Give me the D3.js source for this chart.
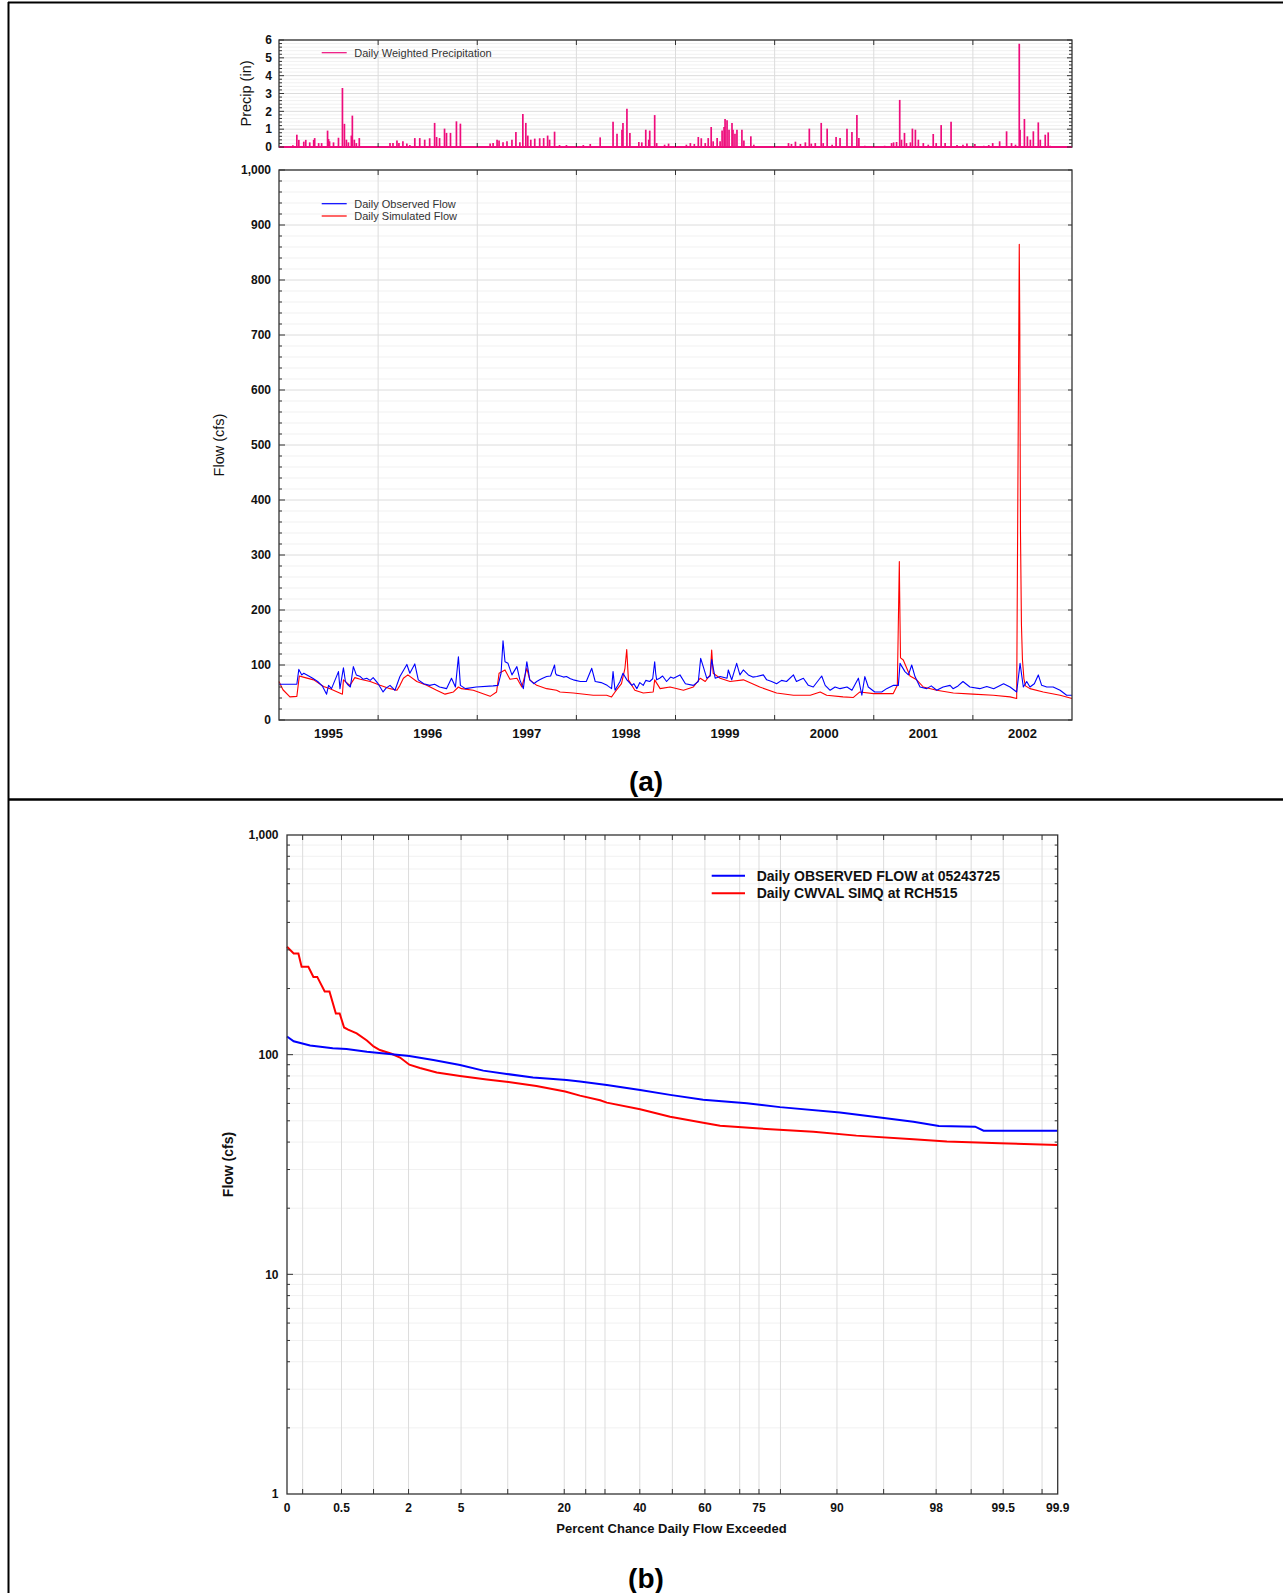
<!DOCTYPE html>
<html>
<head>
<meta charset="utf-8">
<script src="https://cdn.jsdelivr.net/npm/d3@7"></script>
<style>
  body { margin: 0; background: #fff; }
  svg { display: block; font-family: Arial, "Liberation Sans", sans-serif; }
</style>
</head>
<body>
<svg id="chart" width="1283" height="1593"></svg>
<script>
// ---- data ----
// time is in decimal years
const yearLabels = [1995, 1996, 1997, 1998, 1999, 2000, 2001, 2002];

// daily weighted precipitation (in)
const precip = [
  [1995.14,.1],[1995.18,.69],[1995.20,.4],[1995.25,.3],[1995.27,.4],[1995.31,.26],[1995.35,.4],[1995.36,.5],
  [1995.40,.22],[1995.43,.22],[1995.49,.92],[1995.50,.45],[1995.51,.32],[1995.55,.26],[1995.60,.52],[1995.64,3.31],
  [1995.66,1.3],[1995.68,.41],[1995.70,.26],[1995.73,.64],[1995.74,1.76],[1995.76,.41],[1995.78,.22],[1995.81,.5],
  [1996.12,.22],[1996.15,.22],[1996.19,.36],[1996.21,.22],[1996.25,.32],[1996.29,.19],[1996.32,.11],[1996.37,.5],
  [1996.42,.5],[1996.47,.41],[1996.52,.49],[1996.57,1.35],[1996.59,.56],[1996.62,.5],[1996.67,1.03],[1996.69,.79],
  [1996.73,.79],[1996.79,1.44],[1996.83,1.31],
  [1997.13,.19],[1997.16,.22],[1997.20,.41],[1997.22,.37],[1997.26,.26],[1997.30,.32],[1997.35,.41],[1997.39,.84],
  [1997.43,.26],[1997.46,1.85],[1997.49,1.35],[1997.51,.64],[1997.54,.41],[1997.58,.47],[1997.63,.49],[1997.67,.5],
  [1997.71,.64],[1997.73,.41],[1997.78,.86],[1997.83,.11],[1997.90,.11],
  [1998.07,.11],[1998.14,.17],[1998.24,.54],[1998.37,1.42],[1998.41,.75],[1998.46,.97],[1998.47,1.35],[1998.51,2.15],
  [1998.54,.79],[1998.63,.28],[1998.66,.26],[1998.70,.97],[1998.73,.41],[1998.74,.92],[1998.79,1.79],[1998.81,.22],
  [1998.89,.13],[1998.93,.19],
  [1999.03,.04],[1999.11,.13],[1999.15,.22],[1999.19,.17],[1999.23,.56],[1999.26,.49],[1999.30,.22],[1999.33,.5],
  [1999.36,1.12],[1999.38,.32],[1999.42,.5],[1999.45,.32],[1999.47,.93],[1999.49,1.12],[1999.50,1.57],[1999.52,1.5],
  [1999.54,.97],[1999.57,1.35],[1999.58,.97],[1999.60,.75],[1999.62,.97],[1999.67,.97],[1999.69,.37],[1999.76,.6],
  [1999.79,.13],
  [2000.02,.04],[2000.09,.04],[2000.14,.22],[2000.17,.17],[2000.21,.3],[2000.26,.17],[2000.31,.26],[2000.35,1.03],
  [2000.37,.19],[2000.41,.22],[2000.47,1.35],[2000.49,.22],[2000.53,1.03],[2000.58,.13],[2000.62,.56],[2000.66,.5],
  [2000.73,1.03],[2000.78,.84],[2000.83,1.79],[2000.85,.5],[2000.91,.07],
  [2001.11,.07],[2001.18,.22],[2001.20,.26],[2001.23,.28],[2001.262,2.64],[2001.28,.41],[2001.31,.79],[2001.33,.22],
  [2001.37,.26],[2001.39,1.03],[2001.42,.97],[2001.45,.41],[2001.50,.22],[2001.55,.13],[2001.60,.73],[2001.63,.22],
  [2001.68,1.23],[2001.72,.22],[2001.78,1.42],[2001.84,.11],[2001.90,.13],[2001.94,.19],
  [2002.02,.17],[2002.11,.07],[2002.16,.11],[2002.20,.22],[2002.27,.32],[2002.34,.88],[2002.39,.22],[2002.43,.13],
  [2002.468,5.79],[2002.476,.97],[2002.52,1.57],[2002.55,.6],[2002.58,.41],[2002.61,.88],[2002.66,1.38],[2002.68,.41],
  [2002.73,.69],[2002.76,.82],[2002.78,.07],[2002.85,.04],[2002.95,.04]
];

// daily observed flow (cfs)
const observedFlow = [
  [1995.00,65],[1995.18,65],[1995.20,92],[1995.23,82],[1995.25,85],[1995.30,80],[1995.34,76],[1995.39,70],
  [1995.44,61],[1995.48,47],[1995.50,63],[1995.53,57],[1995.60,88],[1995.615,57],[1995.65,95],[1995.67,70],
  [1995.69,65],[1995.72,60],[1995.75,97],[1995.78,82],[1995.82,79],[1995.85,74],[1995.885,76],[1995.92,72],
  [1995.95,77],[1996.00,66],[1996.05,51],[1996.08,58],[1996.12,63],[1996.17,54],[1996.22,79],[1996.29,101],
  [1996.32,85],[1996.37,102],[1996.405,73],[1996.46,66],[1996.52,63],[1996.57,65],[1996.62,60],[1996.69,57],
  [1996.74,76],[1996.78,60],[1996.81,115],[1996.83,63],[1996.88,57],[1996.99,60],[1997.16,62],[1997.21,63],
  [1997.24,85],[1997.26,144],[1997.28,106],[1997.31,103],[1997.35,82],[1997.40,97],[1997.43,73],[1997.465,57],
  [1997.50,106],[1997.53,73],[1997.57,66],[1997.60,70],[1997.63,73],[1997.66,76],[1997.70,79],[1997.74,80],
  [1997.78,100],[1997.79,85],[1997.80,82],[1997.84,80],[1997.87,78],[1997.90,79],[1997.94,75],[1997.97,73],
  [1998.04,70],[1998.10,70],[1998.155,94],[1998.19,70],[1998.25,68],[1998.31,63],[1998.355,57],[1998.37,88],
  [1998.39,54],[1998.44,70],[1998.47,85],[1998.51,73],[1998.56,63],[1998.58,66],[1998.61,57],[1998.64,68],
  [1998.675,63],[1998.70,72],[1998.74,70],[1998.77,75],[1998.79,106],[1998.80,85],[1998.81,73],[1998.84,76],
  [1998.87,80],[1998.91,70],[1998.95,78],[1998.98,76],[1999.045,82],[1999.10,66],[1999.18,63],[1999.23,70],
  [1999.254,112],[1999.28,97],[1999.315,76],[1999.35,80],[1999.365,110],[1999.40,76],[1999.45,79],[1999.52,76],
  [1999.533,91],[1999.567,73],[1999.617,103],[1999.65,82],[1999.684,91],[1999.735,82],[1999.78,78],[1999.82,79],
  [1999.886,82],[1999.92,73],[1999.97,70],[2000.02,66],[2000.07,72],[2000.12,70],[2000.19,82],[2000.22,70],
  [2000.29,76],[2000.34,63],[2000.39,60],[2000.475,80],[2000.51,63],[2000.56,54],[2000.61,60],[2000.66,57],
  [2000.73,60],[2000.78,54],[2000.845,76],[2000.88,45],[2000.91,79],[2000.945,60],[2001.01,51],[2001.08,51],
  [2001.13,57],[2001.20,63],[2001.248,63],[2001.265,103],[2001.315,88],[2001.35,82],[2001.383,100],[2001.416,79],
  [2001.467,60],[2001.534,57],[2001.58,62],[2001.635,54],[2001.70,60],[2001.77,63],[2001.80,57],[2001.85,62],
  [2001.90,70],[2001.97,60],[2002.07,57],[2002.14,61],[2002.21,57],[2002.31,66],[2002.375,60],[2002.442,51],
  [2002.476,103],[2002.509,60],[2002.543,70],[2002.576,60],[2002.62,66],[2002.66,82],[2002.694,63],[2002.745,60],
  [2002.81,60],[2002.88,54],[2002.946,45],[2003.00,45]
];

// daily simulated flow (cfs)
const simulatedFlow = [
  [1995.00,70],[1995.04,55],[1995.11,42],[1995.18,43],[1995.205,80],[1995.245,78],[1995.35,73],[1995.45,61],
  [1995.515,57],[1995.64,47],[1995.65,73],[1995.715,63],[1995.765,77],[1995.82,74],[1995.92,70],[1996.02,63],
  [1996.12,57],[1996.19,54],[1996.22,63],[1996.255,76],[1996.30,82],[1996.39,70],[1996.49,63],[1996.59,54],
  [1996.675,47],[1996.76,51],[1996.81,60],[1996.84,57],[1996.96,54],[1997.13,43],[1997.195,51],[1997.22,85],
  [1997.28,91],[1997.33,74],[1997.40,76],[1997.45,60],[1997.50,94],[1997.53,73],[1997.60,63],[1997.70,57],
  [1997.80,54],[1997.835,51],[1997.97,49],[1998.17,45],[1998.305,45],[1998.355,42],[1998.39,51],[1998.455,66],
  [1998.49,94],[1998.508,128],[1998.525,73],[1998.59,54],[1998.675,49],[1998.775,51],[1998.79,73],[1998.845,57],
  [1998.945,60],[1999.08,54],[1999.18,60],[1999.25,76],[1999.30,70],[1999.35,82],[1999.365,127],[1999.38,85],
  [1999.45,76],[1999.55,70],[1999.685,73],[1999.85,60],[2000.02,49],[2000.19,45],[2000.36,45],[2000.46,51],
  [2000.525,45],[2000.69,42],[2000.795,41],[2000.86,51],[2001.00,48],[2001.197,48],[2001.238,63],[2001.258,288],
  [2001.261,236],[2001.265,179],[2001.27,113],[2001.298,109],[2001.366,80],[2001.433,73],[2001.50,60],[2001.635,54],
  [2001.803,49],[2002.00,47],[2002.206,45],[2002.375,42],[2002.442,39],[2002.468,865],[2002.473,731],[2002.48,345],
  [2002.49,173],[2002.50,110],[2002.515,75],[2002.53,62],[2002.576,57],[2002.71,51],[2002.88,45],[2003.00,39]
];

// flow duration curves: [percent exceeded, flow cfs]
const observedDuration = [
  [0.135,121],[0.16,115],[0.24,110],[0.41,107],[0.56,106],[0.87,103],[1.31,101],[2.03,98.6],[3.14,94.6],
  [4.92,89.8],[7.05,84.6],[9.86,81.7],[13.9,78.8],[20.5,76.7],[23.6,75.4],[30.5,72.8],[40.1,69.1],[49.3,65.6],
  [59.5,62.3],[71.9,60.1],[79.9,57.7],[90.4,54.5],[94.7,51.7],[96.97,49.5],[98.1,47.3],[99.08,47.0],[99.23,45.1],
  [99.865,45.1]
];
const simulatedDuration = [
  [0.135,310],[0.16,289],[0.18,289],[0.195,251],[0.23,251],[0.26,226],[0.285,226],[0.34,194],[0.38,194],
  [0.44,154],[0.48,154],[0.53,133],[0.58,130],[0.70,125],[0.87,116],[1.0,109],[1.14,105],[1.44,101],[1.70,97],
  [2.03,90],[2.47,87],[3.33,83],[4.92,80],[7.42,77],[10.1,75],[14.5,72],[20.2,68],[23.6,65.1],[28.7,62],
  [30.5,60.5],[40.1,56.4],[49.3,52.2],[59.5,49.0],[64.5,47.5],[75.2,46.1],[86.4,44.6],[92.4,42.8],[96.97,41.2],
  [98.37,40.2],[99.46,39.5],[99.865,38.8]
];

const pctLabels = [0, 0.5, 2, 5, 20, 40, 60, 75, 90, 98, 99.5, 99.9];
const pctGrid = [0.2, 0.5, 1, 2, 5, 10, 20, 25, 30, 40, 50, 60, 70, 75, 80, 90, 95, 98, 99, 99.5, 99.8];
const flowLogTicks = [1, 10, 100, 1000];

// ---- helpers ----
// inverse normal cdf (Acklam), used for the probability axis
function probit(p) {
  if (p <= 0) return -Infinity;
  if (p >= 1) return Infinity;
  const a = [-3.969683028665376e+01, 2.209460984245205e+02, -2.759285104469687e+02, 1.383577518672690e+02, -3.066479806614716e+01, 2.506628277459239e+00];
  const b = [-5.447609879822406e+01, 1.615858368580409e+02, -1.556989798598866e+02, 6.680131188771972e+01, -1.328068155288572e+01];
  const c = [-7.784894002430293e-03, -3.223964580411365e-01, -2.400758277161838e+00, -2.549671039308640e+00, 4.374664141464968e+00, 2.938163982698783e+00];
  const d = [7.784695709041462e-03, 3.224671290700398e-01, 2.445134137142996e+00, 3.754408661907416e+00];
  const pl = 0.02425;
  let q, r;
  if (p < pl) {
    q = Math.sqrt(-2 * Math.log(p));
    return (((((c[0]*q+c[1])*q+c[2])*q+c[3])*q+c[4])*q+c[5]) / ((((d[0]*q+d[1])*q+d[2])*q+d[3])*q+1);
  }
  if (p <= 1 - pl) {
    q = p - 0.5; r = q * q;
    return (((((a[0]*r+a[1])*r+a[2])*r+a[3])*r+a[4])*r+a[5])*q / (((((b[0]*r+b[1])*r+b[2])*r+b[3])*r+b[4])*r+1);
  }
  q = Math.sqrt(-2 * Math.log(1 - p));
  return -(((((c[0]*q+c[1])*q+c[2])*q+c[3])*q+c[4])*q+c[5]) / ((((d[0]*q+d[1])*q+d[2])*q+d[3])*q+1);
}

const svg = d3.select("#chart");
const W = 1283, H = 1593;
const fmt = d3.format(",");
const MAJOR = "#dcdcdc", MINOR = "#f1f1f1", AXIS = "#333";
const PINK = "#ee0c7c";

function hline(g, y, x0, x1, color, w) {
  g.append("line").attr("x1", x0).attr("x2", x1).attr("y1", y).attr("y2", y)
    .attr("stroke", color).attr("stroke-width", w || 1);
}
function vline(g, x, y0, y1, color, w) {
  g.append("line").attr("x1", x).attr("x2", x).attr("y1", y0).attr("y2", y1)
    .attr("stroke", color).attr("stroke-width", w || 1);
}
function frame(g, x0, y0, x1, y1) {
  g.append("rect").attr("x", x0).attr("y", y0).attr("width", x1 - x0).attr("height", y1 - y0)
    .attr("fill", "none").attr("stroke", AXIS).attr("stroke-width", 1.3);
}

// ---- page borders ----
hline(svg, 2.5, 8, W, "#000", 2);
vline(svg, 8.5, 2, H, "#000", 2);
hline(svg, 799.5, 8, W, "#000", 2.5);

// ===================== panel (a) =====================
const x = d3.scaleLinear().domain([1995, 2003]).range([279, 1072]);
const yP = d3.scaleLinear().domain([0, 6]).range([147, 40]);
const yF = d3.scaleLinear().domain([0, 1000]).range([720, 170]);
const yearBounds = d3.range(1995, 2004);

// --- precip ---
const gp = svg.append("g");
d3.range(0, 6.01, 0.2).forEach(v => hline(gp, yP(v), x(1995), x(2003), Math.abs(v - Math.round(v)) < 1e-6 ? MAJOR : MINOR));
yearBounds.slice(1, -1).forEach(t => vline(gp, x(t), yP(6), yP(0), MAJOR));

gp.append("g").selectAll("line").data(precip).join("line")
  .attr("x1", d => x(d[0])).attr("x2", d => x(d[0]))
  .attr("y1", yP(0)).attr("y2", d => yP(d[1]))
  .attr("stroke", PINK).attr("stroke-width", 1.7);

frame(gp, x(1995), yP(6), x(2003), yP(0));
hline(gp, yP(0), x(1995), x(2003), PINK, 1.8);

// ticks
d3.range(0, 6.01, 0.2).forEach(v => {
  const major = Math.abs(v - Math.round(v)) < 1e-6;
  hline(gp, yP(v), x(1995), x(1995) + (major ? 5 : 3), AXIS);
  hline(gp, yP(v), x(2003) - (major ? 5 : 3), x(2003), AXIS);
});
yearBounds.slice(1, -1).forEach(t => {
  vline(gp, x(t), yP(6), yP(6) + 5, AXIS);
  vline(gp, x(t), yP(0) - 4, yP(0), AXIS);
});
gp.append("g").selectAll("text").data(d3.range(0, 7)).join("text")
  .attr("x", 272).attr("y", d => yP(d) + 4.3)
  .attr("text-anchor", "end").attr("font-size", 12).attr("font-weight", "bold")
  .attr("fill", "#111").text(d => d);
gp.append("text").attr("transform", `translate(251,${(yP(0) + yP(6)) / 2}) rotate(-90)`)
  .attr("text-anchor", "middle").attr("font-size", 14.5).attr("fill", "#111").text("Precip (in)");

// legend
hline(gp, 52.7, 321.7, 346.7, PINK, 1.2);
gp.append("text").attr("x", 354.3).attr("y", 56.6).attr("font-size", 11).attr("fill", "#333")
  .text("Daily Weighted Precipitation");

// --- flow ---
const gf = svg.append("g");
d3.range(0, 1001, 20).forEach(v => hline(gf, yF(v), x(1995), x(2003), v % 100 === 0 ? MAJOR : MINOR));
yearBounds.slice(1, -1).forEach(t => vline(gf, x(t), yF(1000), yF(0), MAJOR));

const flowLine = d3.line().x(d => x(d[0])).y(d => yF(d[1]));
gf.append("path").datum(simulatedFlow).attr("d", flowLine)
  .attr("fill", "none").attr("stroke", "#ff0000").attr("stroke-width", 1.1).attr("stroke-linejoin", "round");
gf.append("path").datum(observedFlow).attr("d", flowLine)
  .attr("fill", "none").attr("stroke", "#0000ff").attr("stroke-width", 1.1).attr("stroke-linejoin", "round");

frame(gf, x(1995), yF(1000), x(2003), yF(0));
d3.range(0, 1001, 20).forEach(v => {
  hline(gf, yF(v), x(1995), x(1995) + (v % 100 === 0 ? 6 : 3), AXIS);
  if (v % 100 === 0) hline(gf, yF(v), x(2003) - 4, x(2003), AXIS);
});
yearBounds.slice(1, -1).forEach(t => {
  vline(gf, x(t), yF(1000), yF(1000) + 5, AXIS);
  vline(gf, x(t), yF(0) - 5, yF(0), AXIS);
});
gf.append("g").selectAll("text").data(d3.range(0, 1001, 100)).join("text")
  .attr("x", 271).attr("y", d => yF(d) + 4.3)
  .attr("text-anchor", "end").attr("font-size", 12).attr("font-weight", "bold")
  .attr("fill", "#111").text(d => fmt(d));
gf.append("g").selectAll("text").data(yearLabels).join("text")
  .attr("x", d => x(d + 0.5)).attr("y", 737.5)
  .attr("text-anchor", "middle").attr("font-size", 13).attr("font-weight", "bold")
  .attr("fill", "#111").text(d => d);
gf.append("text").attr("transform", `translate(224,${(yF(0) + yF(1000)) / 2}) rotate(-90)`)
  .attr("text-anchor", "middle").attr("font-size", 14.5).attr("fill", "#111").text("Flow (cfs)");

// legend
hline(gf, 203.7, 321.7, 346.7, "#0000ff", 1.2);
hline(gf, 216, 321.7, 346.7, "#ff0000", 1.2);
gf.append("text").attr("x", 354.3).attr("y", 207.6).attr("font-size", 11).attr("fill", "#333").text("Daily Observed Flow");
gf.append("text").attr("x", 354.3).attr("y", 219.9).attr("font-size", 11).attr("fill", "#333").text("Daily Simulated Flow");

svg.append("text").attr("x", 646).attr("y", 791).attr("text-anchor", "middle")
  .attr("font-size", 28).attr("font-weight", "bold").text("(a)");

// ===================== panel (b) =====================
const zx = d3.scaleLinear().domain([-3, 3]).range([287, 1057.7]).clamp(true);
const xPct = p => zx(probit(p / 100));
const yL = d3.scaleLog().domain([1, 1000]).range([1494, 835]);
const gb = svg.append("g");

const logMinor = [];
[1, 10, 100].forEach(dec => d3.range(2, 10).forEach(k => logMinor.push(dec * k)));
logMinor.forEach(v => hline(gb, yL(v), xPct(0), xPct(99.9), MINOR));
[10, 100].forEach(v => hline(gb, yL(v), xPct(0), xPct(99.9), MAJOR));
pctGrid.forEach(p => vline(gb, xPct(p), yL(1000), yL(1), MAJOR));

const durLine = d3.line().x(d => xPct(d[0])).y(d => yL(d[1]));
gb.append("path").datum(simulatedDuration).attr("d", durLine)
  .attr("fill", "none").attr("stroke", "#ff0000").attr("stroke-width", 2);
gb.append("path").datum(observedDuration).attr("d", durLine)
  .attr("fill", "none").attr("stroke", "#0000ff").attr("stroke-width", 2);

frame(gb, xPct(0), yL(1000), xPct(99.9), yL(1));
logMinor.forEach(v => {
  hline(gb, yL(v), xPct(0), xPct(0) + 3, AXIS);
  hline(gb, yL(v), xPct(99.9) - 3, xPct(99.9), AXIS);
});
[10, 100].forEach(v => {
  hline(gb, yL(v), xPct(0), xPct(0) + 6, AXIS);
  hline(gb, yL(v), xPct(99.9) - 6, xPct(99.9), AXIS);
});
pctGrid.forEach(p => {
  vline(gb, xPct(p), yL(1000), yL(1000) + 5, AXIS);
  vline(gb, xPct(p), yL(1) - 5, yL(1), AXIS);
});
gb.append("g").selectAll("text").data(flowLogTicks).join("text")
  .attr("x", 278.5).attr("y", d => yL(d) + 4.3)
  .attr("text-anchor", "end").attr("font-size", 12).attr("font-weight", "bold")
  .attr("fill", "#111").text(d => fmt(d));
gb.append("g").selectAll("text").data(pctLabels).join("text")
  .attr("x", d => xPct(d)).attr("y", 1512)
  .attr("text-anchor", "middle").attr("font-size", 12).attr("font-weight", "bold")
  .attr("fill", "#111").text(d => d);
gb.append("text").attr("x", 671.5).attr("y", 1532.5).attr("text-anchor", "middle")
  .attr("font-size", 13).attr("font-weight", "bold").attr("fill", "#111")
  .text("Percent Chance Daily Flow Exceeded");
gb.append("text").attr("transform", `translate(233,${(yL(1) + yL(1000)) / 2}) rotate(-90)`)
  .attr("text-anchor", "middle").attr("font-size", 14).attr("font-weight", "bold")
  .attr("fill", "#111").text("Flow (cfs)");

// legend
hline(gb, 875.7, 711.7, 745, "#0000ff", 2);
hline(gb, 893.3, 711.7, 745, "#ff0000", 2);
gb.append("text").attr("x", 756.7).attr("y", 880.6).attr("font-size", 14).attr("font-weight", "bold")
  .attr("fill", "#111").text("Daily OBSERVED FLOW at 05243725");
gb.append("text").attr("x", 756.7).attr("y", 898.2).attr("font-size", 14).attr("font-weight", "bold")
  .attr("fill", "#111").text("Daily CWVAL SIMQ at RCH515");

svg.append("text").attr("x", 646).attr("y", 1588).attr("text-anchor", "middle")
  .attr("font-size", 28).attr("font-weight", "bold").text("(b)");
</script>
</body>
</html>
